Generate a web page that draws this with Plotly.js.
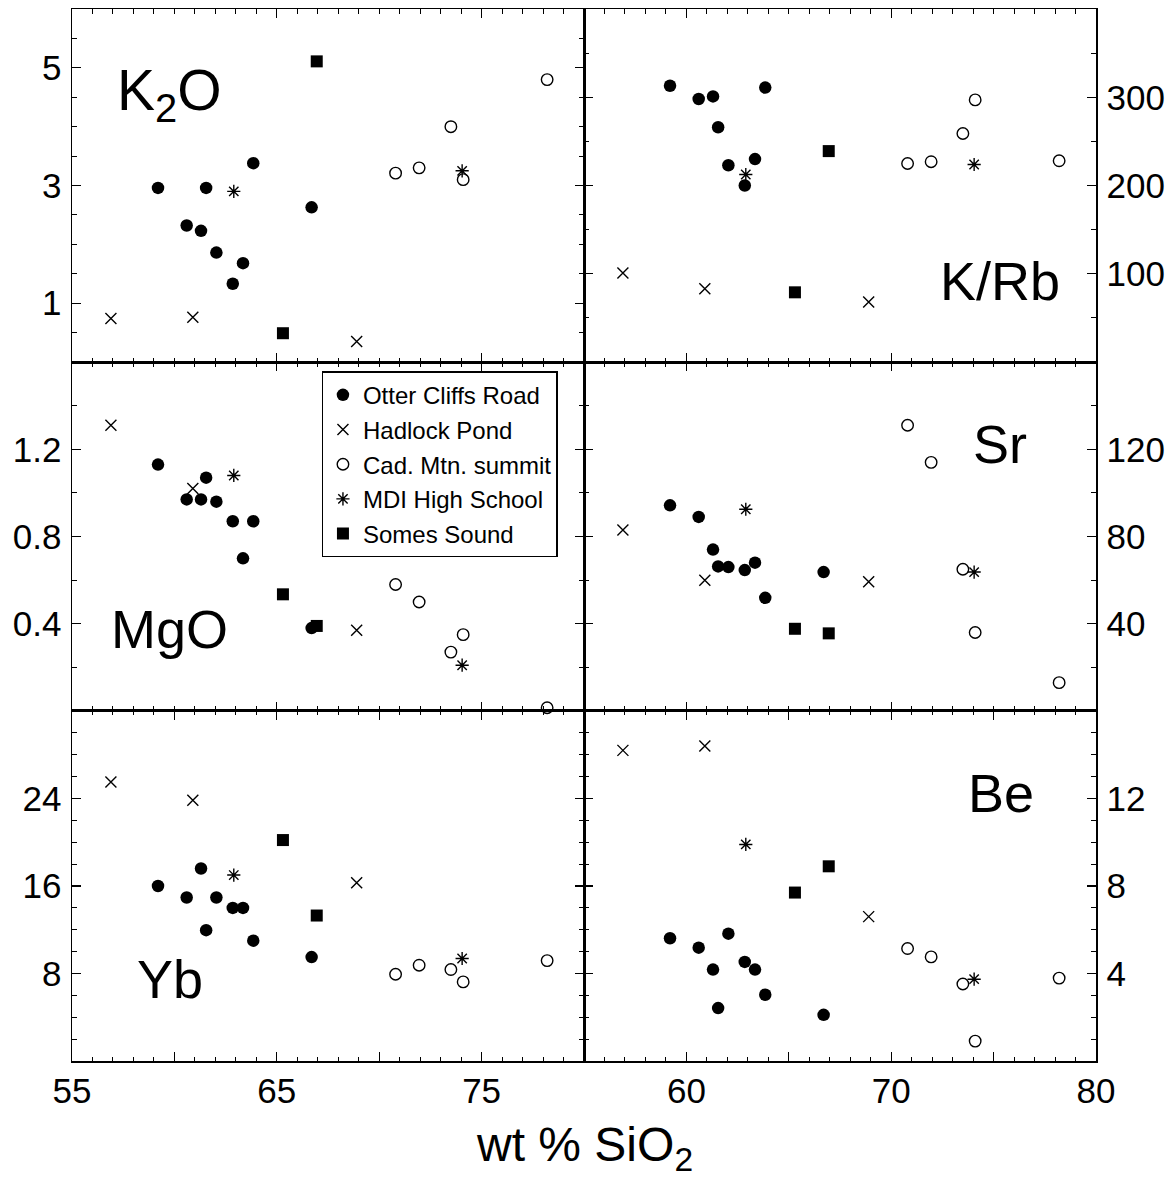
<!DOCTYPE html>
<html>
<head>
<meta charset="utf-8">
<script src="https://cdn.plot.ly/plotly-3.0.1.min.js"></script>
<style>
  html, body { margin: 0; padding: 0; background: #fff; }
  #chart { width: 1175px; height: 1182px; }
</style>
</head>
<body>
<div id="chart"></div>
<script>
// ---------------- DATA ----------------
// Otter Cliffs Road (filled circles)
const otterSiO2 = [59.2, 60.6, 61.3, 61.55, 62.05, 62.85, 63.35, 63.85, 66.7];
const otterK2O  = [2.96, 2.32, 2.23, 2.96, 1.86, 1.33, 1.68, 3.38, 2.63];
const otterKRb  = [313, 298, 301, 266, 223, 200, 230, 311, null];
const otterMgO  = [1.13, 0.97, 0.97, 1.07, 0.96, 0.87, 0.70, 0.87, 0.38];
const otterSr   = [94.3, 89.0, 74.0, 66.3, 66.0, 64.6, 68.0, 51.9, 63.7];
const otterYb   = [16.0, 14.95, 17.6, 11.96, 14.95, 14.0, 14.0, 11.0, 9.5];
const otterBe   = [5.61, 5.18, 4.18, 2.42, 5.82, 4.53, 4.18, 3.03, 2.11];

// Hadlock Pond (x)
const hadlockSiO2 = [56.9, 60.9, 68.9];
const hadlockK2O  = [0.74, 0.76, 0.35];
const hadlockKRb  = [101, 83, 68];
const hadlockMgO  = [1.31, 1.02, 0.37];
const hadlockSr   = [83.0, 59.9, 59.3];
const hadlockYb   = [25.5, 23.85, 16.3];
const hadlockBe   = [14.2, 14.4, 6.6];

// Cad. Mtn. summit (open circles)
const cadSiO2 = [70.8, 71.95, 73.5, 74.1, 78.2];
const cadK2O  = [3.21, 3.30, 4.00, 3.10, 4.80];
const cadKRb  = [225, 227, 259, 297, 228];
const cadMgO  = [0.58, 0.50, 0.27, 0.35, 0.015];
const cadSr   = [131, 114, 65, 36, 13];
const cadYb   = [7.93, 8.76, 8.36, 7.23, 9.18];
const cadBe   = [5.14, 4.76, 3.52, 0.91, 3.79];

// MDI High School (asterisks)
const mdiSiO2 = [62.9, 74.05];
const mdiK2O  = [2.90, 3.25];
const mdiKRb  = [212.5, 223.8];
const mdiMgO  = [1.08, 0.21];
const mdiSr   = [92.5, 63.7];
const mdiYb   = [17.0, 9.37];
const mdiBe   = [9.9, 3.74];

// Somes Sound (filled squares)
const somesSiO2 = [65.3, 66.95];
const somesK2O  = [0.49, 5.11];
const somesKRb  = [79, 239];
const somesMgO  = [0.535, 0.39];
const somesSr   = [37.7, 35.6];
const somesYb   = [20.2, 13.3];
const somesBe   = [7.7, 8.9];

// Panel labels and axis tick labels
const panelLabels = ['K<sub>2</sub>O', 'K/Rb', 'MgO', 'Sr', 'Yb', 'Be'];
const xTickValues = [55, 60, 65, 70, 75, 80];
const xTickTextLeft  = ['55', '', '65', '', '75', ''];
const xTickTextRight = ['', '60', '', '70', '', '80'];
const yRanges = [[0, 6], [0, 400], [0, 1.6], [0, 160], [0, 32], [0, 16]];
const yTickValues = [[1, 3, 5], [100, 200, 300], [0.4, 0.8, 1.2], [40, 80, 120], [8, 16, 24], [4, 8, 12]];
const yTickText = [['1', '3', '5'], ['100', '200', '300'], ['0.4', '0.8', '1.2'], ['40', '80', '120'], ['8', '16', '24'], ['4', '8', '12']];
const yMinorStep = [0.5, 50, 0.2, 20, 2, 1];

// ---------------- STYLE ----------------
const FONT = 'Liberation Sans, Arial, Helvetica, sans-serif';
const groups = [
  {name: 'Otter Cliffs Road', x: otterSiO2, vals: [otterK2O, otterKRb, otterMgO, otterSr, otterYb, otterBe],
   marker: {symbol: 'circle', size: 12.5, color: 'black'}},
  {name: 'Hadlock Pond', x: hadlockSiO2, vals: [hadlockK2O, hadlockKRb, hadlockMgO, hadlockSr, hadlockYb, hadlockBe],
   marker: {symbol: 'x-thin', size: 11, color: 'black', line: {width: 1.4, color: 'black'}}},
  {name: 'Cad. Mtn. summit', x: cadSiO2, vals: [cadK2O, cadKRb, cadMgO, cadSr, cadYb, cadBe],
   marker: {symbol: 'circle-open', size: 11.5, color: 'black', line: {width: 1.4, color: 'black'}}},
  {name: 'MDI High School', x: mdiSiO2, vals: [mdiK2O, mdiKRb, mdiMgO, mdiSr, mdiYb, mdiBe],
   marker: {symbol: 'asterisk', size: 11, color: 'black', line: {width: 1.4, color: 'black'}}},
  {name: 'Somes Sound', x: somesSiO2, vals: [somesK2O, somesKRb, somesMgO, somesSr, somesYb, somesBe],
   marker: {symbol: 'square', size: 12, color: 'black'}}
];

const xIds = ['x', 'x2', 'x3', 'x4', 'x5', 'x6'];
const yIds = ['y', 'y2', 'y3', 'y4', 'y5', 'y6'];

const traces = [];
for (let p = 0; p < 6; p++) {
  groups.forEach((g, gi) => {
    traces.push({
      type: 'scatter', mode: 'markers',
      x: g.x, y: g.vals[p],
      xaxis: xIds[p], yaxis: yIds[p],
      name: g.name, legendgroup: 'g' + gi,
      showlegend: p === 0,
      marker: g.marker,
      cliponaxis: false,
      hoverinfo: 'x+y'
    });
  });
}

// row domains (top, middle, bottom)
const rowDom = [[0.6644, 1], [0.3327, 0.6644], [0, 0.3327]];
const colDom = [[0, 0.5], [0.5, 1]];

const layout = {
  width: 1175, height: 1182,
  margin: {l: 72, r: 79, t: 9, b: 121},
  paper_bgcolor: 'white', plot_bgcolor: 'white',
  font: {family: FONT, color: 'black'},
  showlegend: true,
  legend: {
    x: 0.2438, y: 0.6555, xanchor: 'left', yanchor: 'top',
    bgcolor: 'white', bordercolor: 'black', borderwidth: 1.3,
    font: {family: FONT, size: 24, color: 'black'},
    tracegroupgap: 0.5, itemwidth: 30
  },
  annotations: [],
  hovermode: 'closest'
};

for (let p = 0; p < 6; p++) {
  const row = Math.floor(p / 2), col = p % 2;
  const bottom = row === 2;
  const sfx = p === 0 ? '' : String(p + 1);
  layout['xaxis' + sfx] = {
    domain: colDom[col], anchor: yIds[p], range: [55, 80], autorange: false,
    showline: true, linecolor: 'black', linewidth: 1.5, mirror: 'allticks',
    ticks: 'inside', ticklen: 9, tickwidth: 1.3, tickcolor: 'black',
    tickmode: 'array', tickvals: xTickValues,
    ticktext: col === 0 ? xTickTextLeft : xTickTextRight,
    showticklabels: bottom, ticklabelstandoff: -2,
    tickfont: {family: FONT, size: 35, color: 'black'},
    minor: {ticks: 'inside', ticklen: 4.5, tickwidth: 1, tickcolor: 'black', tickmode: 'linear', tick0: 55, dtick: 1, showgrid: false},
    showgrid: false, zeroline: false, fixedrange: true
  };
  layout['yaxis' + sfx] = {
    domain: rowDom[row], anchor: xIds[p], range: yRanges[p], autorange: false,
    side: col === 0 ? 'left' : 'right',
    showline: true, linecolor: 'black', linewidth: 1.5, mirror: 'allticks',
    ticks: 'inside', ticklen: 9, tickwidth: 1.3, tickcolor: 'black',
    tickmode: 'array', tickvals: yTickValues[p], ticktext: yTickText[p],
    ticklabelstandoff: 2,
    tickfont: {family: FONT, size: 35, color: 'black'},
    minor: {ticks: 'inside', ticklen: 5, tickwidth: 1, tickcolor: 'black', tickmode: 'linear', tick0: 0, dtick: yMinorStep[p], showgrid: false},
    showgrid: false, zeroline: false, fixedrange: true
  };
}

// panel labels (positions in axis-domain fractions)
const labelPos = [[0.191, 0.76], [0.8125, 0.23], [0.191, 0.235], [0.8125, 0.765], [0.191, 0.235], [0.814, 0.766]];
const labelSize = [57, 54, 54, 54, 54, 54];
for (let p = 0; p < 6; p++) {
  layout.annotations.push({
    text: panelLabels[p], showarrow: false,
    xref: xIds[p] + ' domain', yref: yIds[p] + ' domain',
    x: labelPos[p][0], y: labelPos[p][1], xanchor: 'center', yanchor: 'middle',
    font: {family: FONT, size: labelSize[p], color: 'black'}
  });
}
// common x-axis title
layout.annotations.push({
  text: 'wt % SiO<sub>2</sub>', showarrow: false,
  xref: 'paper', yref: 'paper', x: 0.5, y: -0.052, xanchor: 'center', yanchor: 'top',
  font: {family: FONT, size: 48, color: 'black'}
});

Plotly.newPlot('chart', traces, layout, {displayModeBar: false, staticPlot: true});
</script>
</body>
</html>
